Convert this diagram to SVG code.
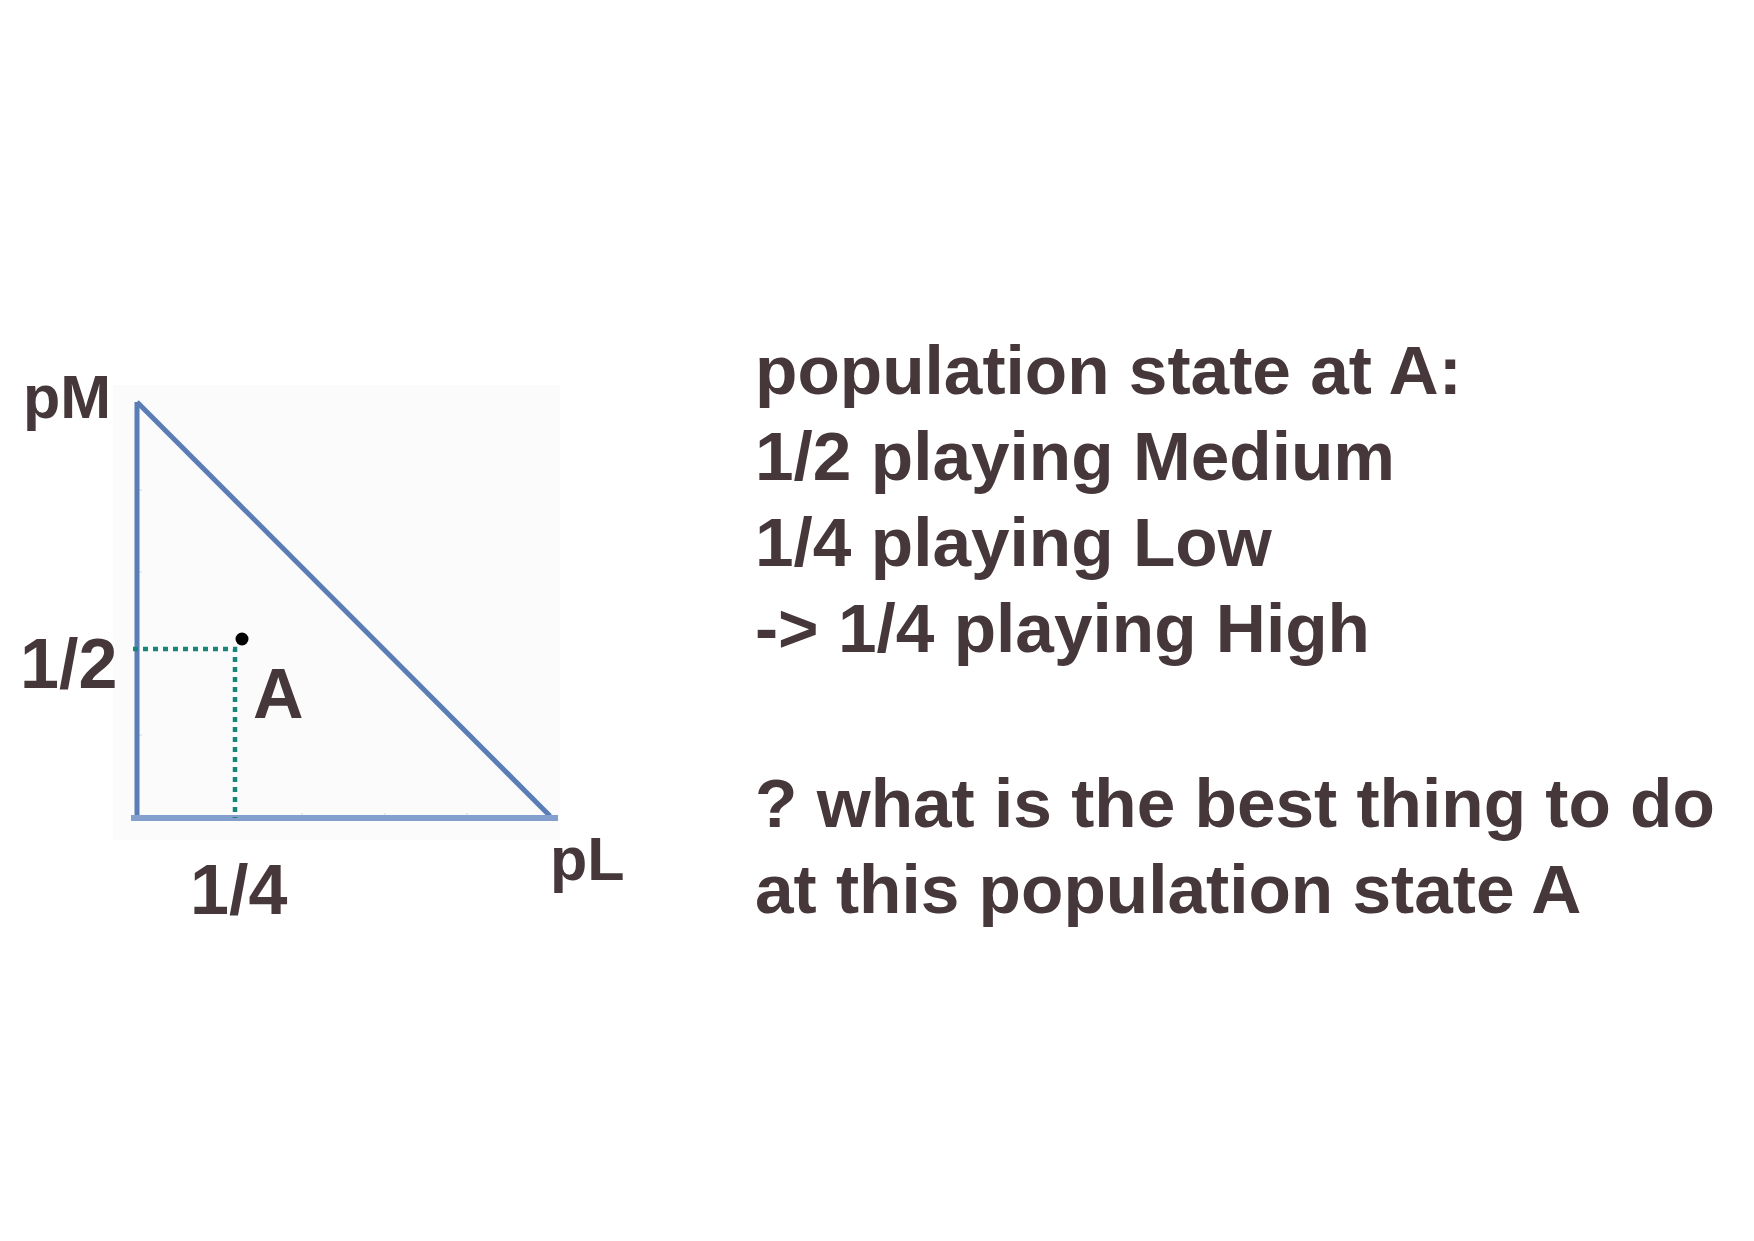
<svg xmlns="http://www.w3.org/2000/svg" width="1754" height="1241" viewBox="0 0 1754 1241">
<style>
.t{font-family:"Liberation Sans",Arial,Helvetica,sans-serif;font-weight:bold;fill:#45373a}
.big{font-size:70px}
.txt{font-size:69.4px}
.lab{font-size:61px}
.axis{stroke:#5b7db5;stroke-width:5;fill:none;stroke-linecap:butt}
.base{stroke:#829fcd;stroke-width:6;fill:none}
.dot{stroke:#17857a;stroke-width:4.5;stroke-dasharray:5 5;fill:none}
.tick{stroke:#dfe4ec;stroke-width:1.5}
</style>
<rect width="1754" height="1241" fill="#ffffff"/>
<g id="plot">
<rect x="113" y="385" width="447" height="455" fill="#fbfbfb"/>
<g id="ticks">
<line class="tick" x1="137" y1="490" x2="142" y2="490"/>
<line class="tick" x1="137" y1="572" x2="142" y2="572"/>
<line class="tick" x1="137" y1="735" x2="142" y2="735"/>
<line class="tick" x1="302" y1="818" x2="302" y2="813"/>
<line class="tick" x1="385" y1="818" x2="385" y2="813"/>
<line class="tick" x1="467" y1="818" x2="467" y2="813"/>
</g>
</g>
<g id="connectors">
<line class="axis" x1="137" y1="402" x2="137" y2="818"/>
<line class="axis" x1="137" y1="402" x2="550" y2="816"/>
<line class="base" x1="131" y1="818" x2="558" y2="818"/>
<polyline class="dot" points="133,649 235,649 235,818"/>
</g>
<g id="pointA">
<circle cx="242" cy="639" r="6.5" fill="#000000"/>
<text class="t big" x="253" y="718">A</text>
</g>
<g id="labels">
<text class="t lab" x="23" y="418">pM</text>
<text class="t big" x="20" y="688">1/2</text>
<text class="t big" x="190" y="914">1/4</text>
<text class="t lab" x="550" y="880">pL</text>
</g>
<g id="description">
<text class="t txt" x="755" y="394">population state at A:</text>
<text class="t txt" x="755" y="480">1/2 playing Medium</text>
<text class="t txt" x="755" y="566">1/4 playing Low</text>
<text class="t txt" x="755" y="652">-&gt; 1/4 playing High</text>
<text class="t txt" x="755" y="827">? what is the best thing to do</text>
<text class="t txt" x="755" y="913">at this population state A</text>
</g>
</svg>
